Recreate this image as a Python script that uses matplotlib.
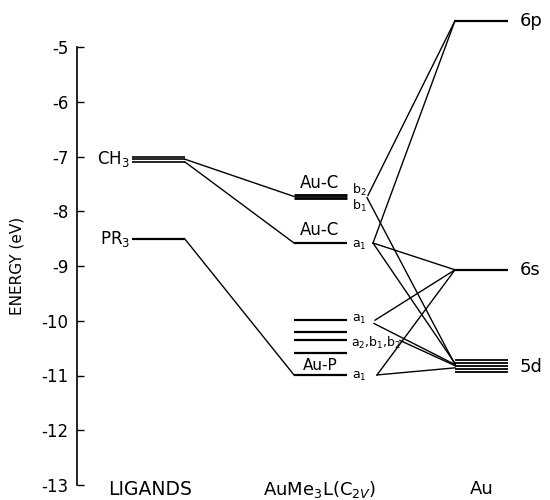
import matplotlib
matplotlib.use("Agg")
import matplotlib.pyplot as plt

# ---------------- data (energies in eV) ----------------
ch3_levels = [-7.00, -7.05, -7.10]
pr3_levels = [-8.51]
auc_b_levels = [-7.71, -7.75]          # b2, b1
auc_a1_level = [-8.58]
a1_upper_level = [-9.99]
a2b1b2_levels = [-10.20, -10.36, -10.58]
aup_a1_level = [-10.99]
au6p_level = [-4.52]
au6s_level = [-9.07]
au5d_levels = [-10.72, -10.77, -10.83, -10.88, -10.93]

y_ticks = [-5, -6, -7, -8, -9, -10, -11, -12, -13]
column_labels = ["LIGANDS", r"AuMe$_3$L(C$_{2V}$)", "Au"]

# connections: (start energy, end energy) for ligand -> complex
left_links = [(-7.05, -7.73), (-7.10, -8.58), (-8.51, -10.99)]
# complex -> Au : (start energy, start x, end energy)
right_links = [
    (-7.71, 368, -4.52), (-8.58, 373, -4.52),
    (-7.75, 367, -10.80), (-8.58, 373, -9.07), (-8.58, 373, -10.78),
    (-9.99, 375, -9.07), (-10.05, 374, -10.80), (-10.36, 400, -10.82),
    (-10.99, 377, -9.07), (-10.99, 377, -10.86),
]

# ---------------- layout ----------------
fig = plt.figure(figsize=(5.5, 5.0), dpi=100)
ax = fig.add_axes([77 / 550, 15 / 500, 473 / 550, 438 / 500])
ax.set_xlim(77, 550)
ax.set_ylim(-13, -5)

LIG = (132, 185)
CPX = (294, 347)
AU = (455, 508)
lw_lvl = 1.6
lw_ln = 1.0
k = "black"

def levels(xr, ys, lw=lw_lvl):
    for y in ys:
        ax.plot(xr, [y, y], color=k, lw=lw, clip_on=False, solid_capstyle="butt")

levels(LIG, ch3_levels, 1.2)
levels(LIG, pr3_levels)
levels(CPX, auc_b_levels, 2.0)
levels(CPX, auc_a1_level)
levels(CPX, a1_upper_level)
levels(CPX, a2b1b2_levels)
levels(CPX, aup_a1_level)
levels(AU, au6p_level)
levels(AU, au6s_level)
levels(AU, au5d_levels, 1.3)

for y0, y1 in left_links:
    ax.plot([LIG[1], CPX[0]], [y0, y1], color=k, lw=lw_ln, clip_on=False)
for y0, x0, y1 in right_links:
    ax.plot([x0, AU[0]], [y0, y1], color=k, lw=lw_ln, clip_on=False)

fs = 12
# ligand labels
ax.text(130, -7.05, "CH$_3$", ha="right", va="center", fontsize=fs)
ax.text(130, -8.51, "PR$_3$", ha="right", va="center", fontsize=fs)
# complex labels
ax.text(320, -7.64, "Au-C", ha="center", va="bottom", fontsize=fs)
ax.text(320, -8.50, "Au-C", ha="center", va="bottom", fontsize=fs)
ax.text(320, -10.95, "Au-P", ha="center", va="bottom", fontsize=11)
sfs = 9
ax.text(352, -7.62, "b$_2$", ha="left", va="center", fontsize=sfs)
ax.text(352, -7.90, "b$_1$", ha="left", va="center", fontsize=sfs)
ax.text(352, -8.62, "a$_1$", ha="left", va="center", fontsize=sfs)
ax.text(352, -9.97, "a$_1$", ha="left", va="center", fontsize=sfs)
ax.text(351, -10.40, "a$_2$,b$_1$,b$_2$", ha="left", va="center", fontsize=sfs)
ax.text(352, -11.02, "a$_1$", ha="left", va="center", fontsize=sfs)
# Au labels
ax.text(520, -4.52, "6p", ha="left", va="center", fontsize=13)
ax.text(520, -9.07, "6s", ha="left", va="center", fontsize=13)
ax.text(520, -10.85, "5d", ha="left", va="center", fontsize=13)

# column labels
for xc, lab, f in zip([150, 320, 482], column_labels, [13.5, 13, 13]):
    ax.text(xc, -13.08, lab, ha="center", va="center", fontsize=f)

# axis styling
for s in ["top", "right", "bottom"]:
    ax.spines[s].set_visible(False)
ax.spines["left"].set_linewidth(1.2)
ax.set_xticks([])
ax.set_yticks(y_ticks)
ax.set_yticklabels([str(t) for t in y_ticks], fontsize=fs)
ax.tick_params(axis="y", direction="in", length=5, width=1.0, pad=6)
ax.set_ylabel("ENERGY (eV)", fontsize=11, labelpad=12)

fig.savefig("out.png", dpi=100)
